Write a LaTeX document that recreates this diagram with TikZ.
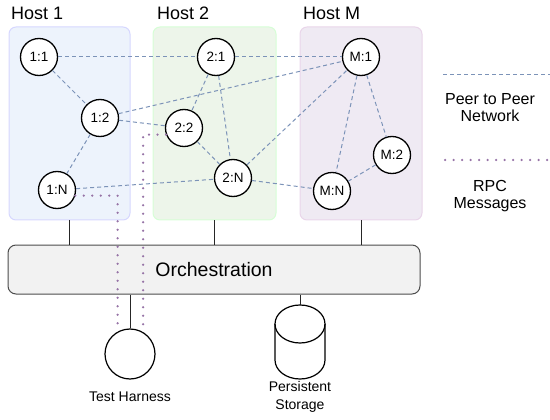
\documentclass[tikz,border=0pt]{standalone}
\usepackage{fontspec}
\setmainfont{Liberation Sans}
\usepackage{xcolor}
\usepackage{tikz}
\usetikzlibrary{positioning, calc}
\definecolor{peerblue}{HTML}{7C93B8}
\definecolor{rpcpurple}{HTML}{9673A6}
\definecolor{hostone}{HTML}{EDF3FC}
\definecolor{hosttwo}{HTML}{EDF5EA}
\definecolor{hostm}{HTML}{EFEAF3}

\begin{document}
\begin{tikzpicture}[
    x=1pt, y=-1pt,
    host/.style={rectangle, rounded corners=7pt, line width=1pt, minimum height=193pt},
    hostlabel/.style={anchor=base west, inner sep=0pt, font=\fontsize{18}{20}\selectfont},
    proc/.style={circle, draw=black, line width=1.3pt, fill=white, minimum size=37pt, inner sep=0pt, font=\fontsize{13.5}{15}\selectfont},
    peer/.style={draw=peerblue, line width=1pt, dash pattern=on 4pt off 3pt},
    rpc/.style={draw=rpcpurple, line width=2.5pt, line cap=round, dash pattern=on 0pt off 8.5pt},
    link/.style={draw=black!85, line width=1pt},
    legend/.style={align=center, font=\fontsize{16}{17}\selectfont},
    caption/.style={align=center, font=\fontsize{14}{17}\selectfont},
]
\useasboundingbox (0,0) rectangle (550,420);

% Hosts
\node[host, draw=hostone!50!blue!30, fill=hostone, minimum width=121pt] (host1) at (69.5,123.5) {};
\node[host, draw=hosttwo!50!green!30, fill=hosttwo, minimum width=123pt] (host2) at (214.5,123.5) {};
\node[host, draw=hostm!50!violet!30, fill=hostm, minimum width=122pt] (hostM) at (361,123.5) {};
\node[hostlabel] at (11,20) {Host 1};
\node[hostlabel] at (157,20) {Host 2};
\node[hostlabel] at (303,20) {Host M};

% Orchestration
\node[rectangle, rounded corners=8pt, draw=black!70, line width=1pt, fill=black!5, minimum width=412pt, minimum height=49pt, font=\fontsize{19.5}{20}\selectfont] (orch) at (214,269.5) {Orchestration};

% Processes
\node[proc] (n11) at (39,57) {1:1};
\node[proc] (n12) at (100,118) {1:2};
\node[proc] (n1N) at (57,190) {1:N};
\node[proc] (n21) at (216,57) {2:1};
\node[proc] (n22) at (184,128) {2:2};
\node[proc] (n2N) at (233,178) {2:N};
\node[proc] (nM1) at (361,57) {M:1};
\node[proc] (nM2) at (392,155) {M:2};
\node[proc] (nMN) at (332,191) {M:N};

% Peer to peer links
\draw[peer] (n11) -- (n21);
\draw[peer] (n21) -- (nM1);
\draw[peer] (n11) -- (n12);
\draw[peer] (n12) -- (n1N);
\draw[peer] (n12) -- (nM1);
\draw[peer] (n12) -- (n22);
\draw[peer] (n21) -- (n22);
\draw[peer] (n21) -- (n2N);
\draw[peer] (n22) -- (n2N);
\draw[peer] (n1N) -- (n2N);
\draw[peer] (n2N) -- (nM1);
\draw[peer] (n2N) -- (nMN);
\draw[peer] (nM1) -- (nMN);
\draw[peer] (nM1) -- (nM2);
\draw[peer] (nM2) -- (nMN);

% Test harness and storage
\node[circle, draw=black, line width=1.2pt, minimum size=50pt, inner sep=0pt] (harness) at (130,354) {};
\node[caption] at (130,397) {Test Harness};
\node[minimum width=50pt, minimum height=74pt, inner sep=0pt] (storage) at (300,342) {};
\draw[line width=1.2pt] (275,324) -- (275,360) arc[start angle=180, end angle=360, x radius=25pt, y radius=19pt] -- (325,324);
\draw[line width=1.2pt] (300,324) ellipse[x radius=25pt, y radius=19pt];
\node[caption, font=\fontsize{14}{17.5}\selectfont] at (300,397) {Persistent\\Storage};

% Wiring
\draw[link] (host1.south) -- (host1.south |- orch.north);
\draw[link] (host2.south) -- (host2.south |- orch.north);
\draw[link] (hostM.south) -- (hostM.south |- orch.north);
\draw[link] (orch.south -| harness.north) -- (harness.north);
\draw[link] (orch.south -| storage.north) -- (storage.north);

% RPC messages
\draw[rpc] (n1N.-17) -| (harness.119);
\draw[rpc] (n22.200) -| (harness.59);

% Legend
\coordinate (peerA) at (443,75);
\coordinate (peerB) at (550,75);
\coordinate (rpcA) at (445,160);
\coordinate (rpcB) at (550,160);
\draw[peer] (peerA) -- (peerB);
\node[legend] (peerlbl) at (490,108) {Peer to Peer\\Network};
\draw[rpc] (rpcA) -- (rpcB);
\node[legend] (rpclbl) at (490,196) {RPC\\Messages};

\end{tikzpicture}
\end{document}
